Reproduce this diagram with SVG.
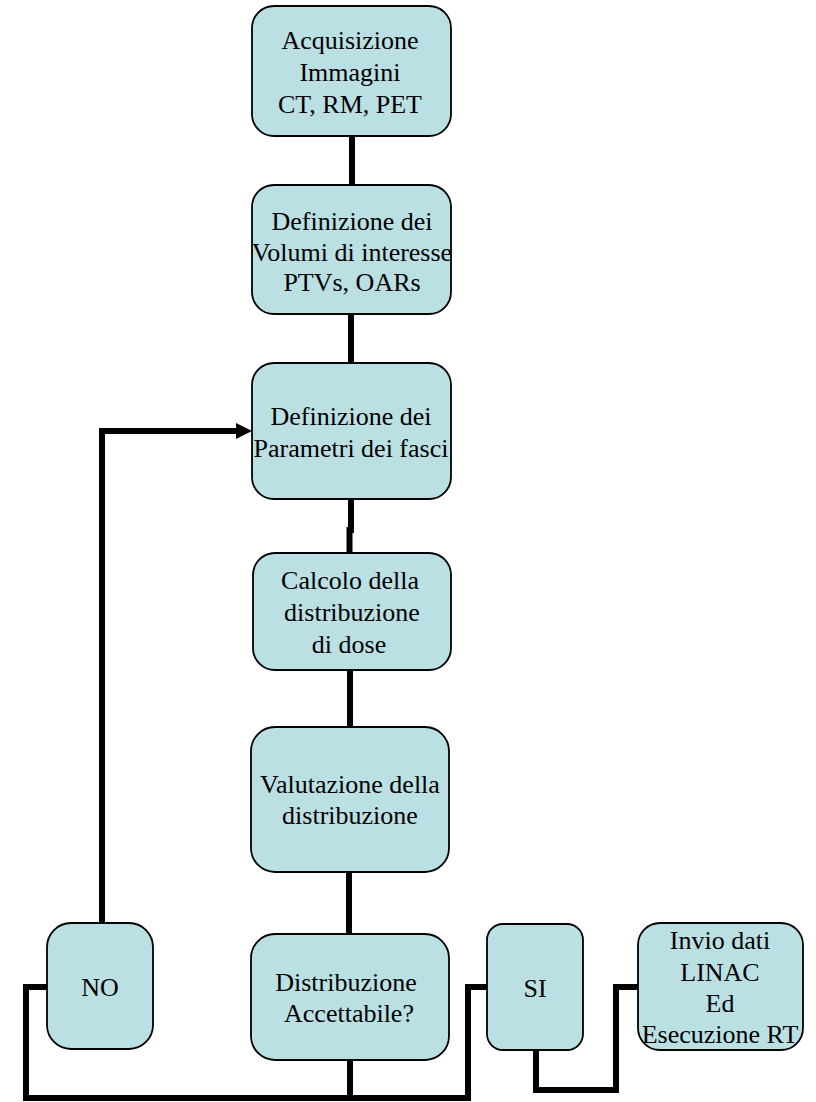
<svg xmlns="http://www.w3.org/2000/svg" width="816" height="1102" viewBox="0 0 816 1102">
<style>
.box{fill:#BBE0E3;stroke:#000;stroke-width:1.8}
.t{font-family:"Liberation Serif","Times New Roman",serif;font-size:26px;fill:#000;text-anchor:middle}
.c{fill:none;stroke:#000;stroke-width:6;stroke-linejoin:miter;stroke-linecap:butt}
</style>
<rect width="816" height="1102" fill="#fff"/>
<g id="connectors">
<line class="c" x1="352" y1="136" x2="352" y2="185"/>
<line class="c" x1="351" y1="314" x2="351" y2="363"/>
<polyline class="c" points="351,499 351,530 349.5,530 349.5,553"/>
<line class="c" x1="350" y1="670" x2="350" y2="727"/>
<line class="c" x1="349" y1="872" x2="349" y2="934"/>
<polyline class="c" points="102,923 102,431 238,431"/>
<polygon points="236,423 252,431 236,439" fill="#000"/>
<polyline class="c" points="47,987 26,987 26,1098 468,1098 468,987 487,987"/>
<line class="c" x1="350" y1="1060" x2="350" y2="1098"/>
<polyline class="c" points="536,1050 536,1090 616,1090 616,987 638,987"/>
</g>
<g id="n1"><rect class="box" x="252" y="6" width="199" height="130" rx="22"/>
<text class="t" x="350" y="49">Acquisizione</text><text class="t" x="350" y="81">Immagini</text><text class="t" x="350" y="113">CT, RM, PET</text></g>
<g id="n2"><rect class="box" x="252" y="185" width="199" height="129" rx="22"/>
<text class="t" x="352" y="230">Definizione dei</text><text class="t" x="352" y="261">Volumi di interesse</text><text class="t" x="352" y="291">PTVs, OARs</text></g>
<g id="n3"><rect class="box" x="252" y="363" width="199" height="136" rx="22"/>
<text class="t" x="351" y="425">Definizione dei</text><text class="t" x="351" y="457">Parametri dei fasci</text></g>
<g id="n4"><rect class="box" x="253" y="553" width="198" height="117" rx="22"/>
<text class="t" x="350" y="589">Calcolo della</text><text class="t" x="352" y="621">distribuzione</text><text class="t" x="349" y="653">di dose</text></g>
<g id="n5"><rect class="box" x="251" y="727" width="198" height="145" rx="24"/>
<text class="t" x="350" y="793">Valutazione della</text><text class="t" x="350" y="824">distribuzione</text></g>
<g id="n6"><rect class="box" x="251" y="934" width="198" height="126" rx="24"/>
<text class="t" x="346" y="991">Distribuzione</text><text class="t" x="349" y="1022">Accettabile?</text></g>
<g id="no"><rect class="box" x="47" y="923" width="106" height="126" rx="24"/>
<text class="t" x="100" y="996">NO</text></g>
<g id="si"><rect class="box" x="487" y="924" width="96" height="126" rx="16"/>
<text class="t" x="535" y="997">SI</text></g>
<g id="invio"><rect class="box" x="638" y="923" width="165" height="127" rx="22"/>
<text class="t" x="720" y="949">Invio dati</text><text class="t" x="720" y="981">LINAC</text><text class="t" x="720" y="1012">Ed</text><text class="t" x="720" y="1043">Esecuzione RT</text></g>
</svg>
